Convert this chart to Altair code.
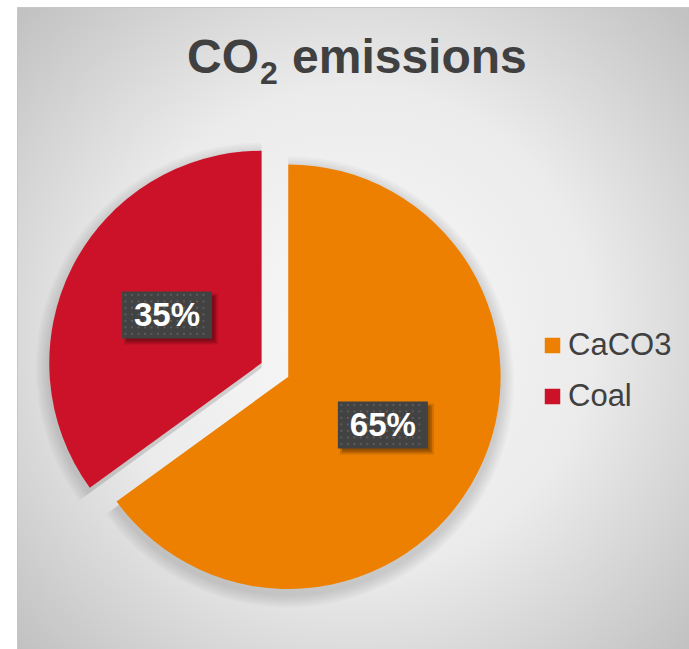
import altair as alt
import pandas as pd

# Share of CO2 emissions by source (percent)
CATEGORIES = ["CaCO3", "Coal"]
SHARES = [65, 35]
COLORS = ["#ED8000", "#CB1228"]

# Title pieces: chemical formula with subscript, then the rest
TITLE_MAIN = "CO"
TITLE_SUB = "2"
TITLE_REST = "emissions"

W, H = 689, 649
CX, CY, R = 288.3, 376.7, 212.3   # pie centre and radius in pixels
EXPLODE = 30                      # pull-out distance of the Coal slice
FONT = "Liberation Sans"
TEXT_GREY = "#404040"

df = pd.DataFrame({"category": CATEGORIES, "share": SHARES,
                   "order": list(range(len(CATEGORIES)))})


def pie_base():
    return (
        alt.Chart(df)
        .transform_joinaggregate(total="sum(share)")
        .transform_window(cum="sum(share)", sort=[alt.SortField("order")],
                          frame=[None, 0])
        .transform_calculate(start="2*PI*(datum.cum - datum.share)/datum.total")
        .transform_calculate(end="2*PI*datum.cum/datum.total")
        .transform_calculate(mid="(datum.start + datum.end)/2")
        .transform_calculate(explode=f"datum.category == 'Coal' ? {EXPLODE} : 0")
        .transform_calculate(cx=f"{CX} + datum.explode*sin(datum.mid)")
        .transform_calculate(cy=f"{CY} - datum.explode*cos(datum.mid)")
        .transform_calculate(lx=f"datum.cx + {R/2}*sin(datum.mid)")
        .transform_calculate(ly=f"datum.cy - {R/2}*cos(datum.mid)")
        .transform_calculate(pct="format(datum.share/datum.total, '.0%')")
    )


# Chart area with soft radial grey gradient
bg_fill = alt.RadialGradient(
    gradient="radial",
    stops=[alt.GradientStop(offset=0, color="#f9f9f9"),
           alt.GradientStop(offset=0.5, color="#ebebeb"),
           alt.GradientStop(offset=1, color="#bdbdbd")],
    x1=0.5, y1=0.5, r1=0, x2=0.5, y2=0.5, r2=0.72,
)
background = alt.Chart(pd.DataFrame({"a": [0]})).mark_rect(
    fill=bg_fill, stroke="#c6c6c6", strokeWidth=1
).encode(x=alt.value(17.5), x2=alt.value(W + 2), y=alt.value(7.5), y2=alt.value(H + 2))

# Soft shadow under the slices
shadow_layers = []
for k in range(1, 7):
    shadow_layers.append(
        pie_base().mark_arc(radius=R + 2.2 * k, color="#000000", opacity=0.022, yOffset=5)
        .encode(theta=alt.Theta("start:Q", scale=None, stack=None),
                theta2="end:Q",
                x=alt.X("cx:Q", scale=None),
                y=alt.Y("cy:Q", scale=None))
    )

slices = pie_base().mark_arc(radius=R, stroke=None).encode(
    theta=alt.Theta("start:Q", scale=None, stack=None),
    theta2="end:Q",
    x=alt.X("cx:Q", scale=None),
    y=alt.Y("cy:Q", scale=None),
    color=alt.Color(
        "category:N",
        scale=alt.Scale(domain=CATEGORIES, range=COLORS),
        legend=alt.Legend(
            title=None, orient="none", legendX=537, legendY=330,
            symbolType="square", symbolSize=240, symbolStrokeWidth=0,
            labelFont=FONT, labelFontSize=31, labelColor=TEXT_GREY,
            labelOffset=0, rowPadding=19, padding=0,
        ),
    ),
)

# Data-label boxes: soft shadow, dark dotted box, white percentage text
box_w, box_h = 45, 23.5


def box_layer(shift, color, opacity, grow=0):
    return pie_base().mark_rect(color=color, opacity=opacity).encode(
        x=alt.X("bx:Q", scale=None), x2="bx2:Q",
        y=alt.Y("by:Q", scale=None), y2="by2:Q",
    ).transform_calculate(
        bx=f"datum.lx - {box_w + grow} + {shift}",
        bx2=f"datum.lx + {box_w + grow} + {shift}",
        by=f"datum.ly - {box_h + grow} + {shift}",
        by2=f"datum.ly + {box_h + grow} + {shift}",
    )


box_shadows = [box_layer(4, "#000000", 0.12, grow=2),
               box_layer(4, "#000000", 0.18, grow=0),
               box_layer(3, "#000000", 0.15, grow=-1)]
box = box_layer(0, "#424242", 1)

# Fine dot texture on the label boxes
dots = (
    pie_base()
    .transform_calculate(gx="sequence(0, 13)")
    .transform_flatten(["gx"])
    .transform_calculate(gy="sequence(0, 7)")
    .transform_flatten(["gy"])
    .transform_calculate(dx_=f"datum.lx - {box_w} + 3.5 + datum.gx*6.5")
    .transform_calculate(dy_=f"datum.ly - {box_h} + 3.5 + datum.gy*6.5")
    .mark_point(shape="square", filled=True, size=4, color="#5c5c5c", opacity=1)
    .encode(x=alt.X("dx_:Q", scale=None), y=alt.Y("dy_:Q", scale=None))
)

labels = pie_base().mark_text(
    font=FONT, fontSize=33, fontWeight="bold", color="white",
    align="center", baseline="alphabetic", dy=11,
).encode(x=alt.X("lx:Q", scale=None), y=alt.Y("ly:Q", scale=None), text="pct:N")

# Title
one = pd.DataFrame({"a": [0]})
title_main = alt.Chart(one).mark_text(
    font=FONT, fontSize=48, fontWeight="bold", color=TEXT_GREY,
    align="right", baseline="alphabetic", text=TITLE_MAIN,
).encode(x=alt.value(259), y=alt.value(73))
title_sub = alt.Chart(one).mark_text(
    font=FONT, fontSize=32, fontWeight="bold", color=TEXT_GREY,
    align="left", baseline="alphabetic", text=TITLE_SUB,
).encode(x=alt.value(260), y=alt.value(84))
title_rest = alt.Chart(one).mark_text(
    font=FONT, fontSize=48, fontWeight="bold", color=TEXT_GREY,
    align="left", baseline="alphabetic", text=TITLE_REST,
).encode(x=alt.value(292), y=alt.value(73))

chart = alt.layer(
    background, *shadow_layers, slices, *box_shadows, box, dots, labels,
    title_main, title_sub, title_rest,
).properties(
    width=W, height=H, padding=0, autosize=alt.AutoSizeParams(type="none"),
    background="white",
).configure_view(stroke=None)

chart.save("out.html", embed_options={"renderer": "svg", "actions": False})
